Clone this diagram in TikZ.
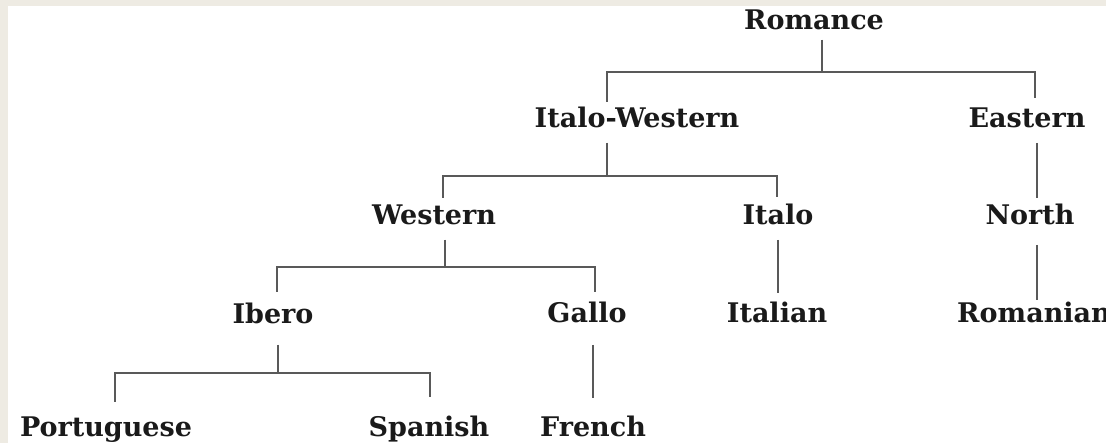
\documentclass[tikz,border=0pt]{standalone}
\usepackage{fontspec}
\setmainfont{DejaVu Serif}
\definecolor{paper}{HTML}{EEEBE3}
\definecolor{ink}{HTML}{1A1A1A}
\begin{document}
\begin{tikzpicture}
		[x=1pt, y=-1pt,
		langnode/.style={
			anchor=base,
			inner sep=0pt,
			text=ink,
			font=\fontsize{27}{30}\selectfont\bfseries
		},
		branch/.style={draw=black!65, line width=1.7pt}]
		\fill[paper] (0,0) rectangle (1106,443);
		\fill[white] (8,6) rectangle (1106,443);
		\clip (0,0) rectangle (1106,443);
		% level 0
		\node[langnode] (rom) at (814,30) {Romance};
		% level 1
		\node[langnode] (iw) at (637,128) {Italo-Western};
		\node[langnode] (east) at (1027,128) {Eastern};
		% level 2
		\node[langnode] (west) at (434,225) {Western};
		\node[langnode] (italo) at (778,225) {Italo};
		\node[langnode] (north) at (1030,225) {North};
		% level 3
		\node[langnode] (ibero) at (273,324) {Ibero};
		\node[langnode] (gallo) at (587,323) {Gallo};
		\node[langnode] (italian) at (777,323) {Italian};
		\node[langnode] (roman) at (1034,323) {Romanian};
		% level 4
		\node[langnode] (port) at (106,436) {Portuguese};
		\node[langnode] (span) at (429,436) {Spanish};
		\node[langnode] (french) at (593,436) {French};
		% connectors
		\draw[branch] ([xshift=8pt,yshift=-10pt]rom.base) -- ++(0,32) -| ([xshift=-30pt,yshift=26pt]iw.base);
		\draw[branch] ([xshift=8pt,yshift=-10pt]rom.base) -- ++(0,32) -| ([xshift=8pt,yshift=30pt]east.base);
		\draw[branch] ([xshift=-30pt,yshift=-15pt]iw.base) -- ++(0,33) -| ([xshift=9pt,yshift=27pt]west.base);
		\draw[branch] ([xshift=-30pt,yshift=-15pt]iw.base) -- ++(0,33) -| ([xshift=-1pt,yshift=28pt]italo.base);
		\draw[branch] ([xshift=10pt,yshift=-15pt]east.base) -- ([xshift=7pt,yshift=27pt]north.base);
		\draw[branch] ([xshift=11pt,yshift=-15pt]west.base) -- ++(0,27) -| ([xshift=4pt,yshift=32pt]ibero.base);
		\draw[branch] ([xshift=11pt,yshift=-15pt]west.base) -- ++(0,27) -| ([xshift=8pt,yshift=31pt]gallo.base);
		\draw[branch] ([yshift=-15pt]italo.base) -- ([xshift=1pt,yshift=30pt]italian.base);
		\draw[branch] ([xshift=7pt,yshift=-20pt]north.base) -- ([xshift=3pt,yshift=23pt]roman.base);
		\draw[branch] ([xshift=5pt,yshift=-21pt]ibero.base) -- ++(0,28) -| ([xshift=9pt,yshift=34pt]port.base);
		\draw[branch] ([xshift=5pt,yshift=-21pt]ibero.base) -- ++(0,28) -| ([xshift=1pt,yshift=39pt]span.base);
		\draw[branch] ([xshift=6pt,yshift=-22pt]gallo.base) -- ([yshift=38pt]french.base);
\end{tikzpicture}
\end{document}
